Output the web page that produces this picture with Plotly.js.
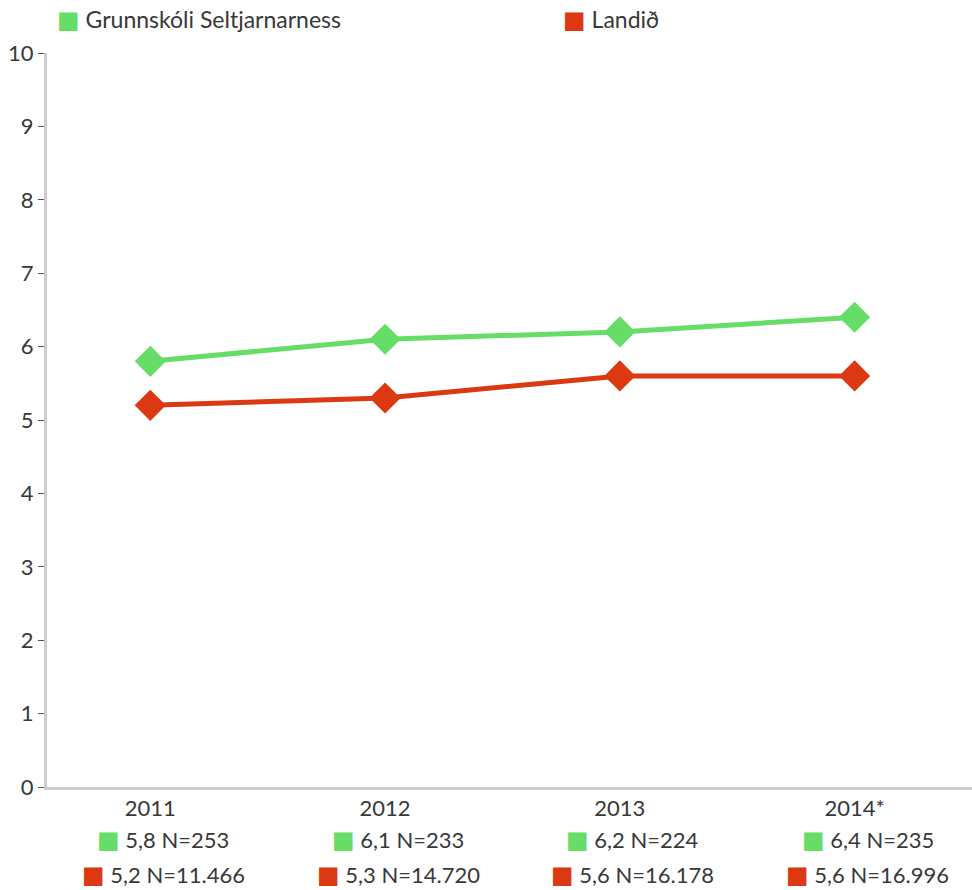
<!DOCTYPE html>
<html>
<head>
<meta charset="utf-8">
<script src="https://cdn.plot.ly/plotly-3.0.1.min.js"></script>
<style>html,body{margin:0;padding:0;background:#fff;}#chart{width:972px;height:890px;}</style>
</head>
<body>
<div id="chart"></div>
<script>
const years = ["2011", "2012", "2013", "2014*"];
const schoolName = "Grunnskóli Seltjarnarness";
const countryName = "Landið";
const schoolValues = [5.8, 6.1, 6.2, 6.4];
const countryValues = [5.2, 5.3, 5.6, 5.6];
const schoolLabels = ["5,8 N=253", "6,1 N=233", "6,2 N=224", "6,4 N=235"];
const countryLabels = ["5,2 N=11.466", "5,3 N=14.720", "5,6 N=16.178", "5,6 N=16.996"];
const yTicks = [0,1,2,3,4,5,6,7,8,9,10];

const green = "#66dd66";
const red = "#dc3912";
const textColor = "#383838";
const fontFamily = "Lato, 'Noto Sans', sans-serif";

function sq(color){
  return "<span style='color:" + color + ";font-size:24px;font-family:DejaVu Sans'>■</span> ";
}

const traces = [
  {x: [0,1,2,3], y: schoolValues, name: schoolName, type: "scatter", mode: "lines+markers",
   line: {color: green, width: 5}, marker: {symbol: "diamond", size: 24, color: green}, hoverinfo: "skip"},
  {x: [0,1,2,3], y: countryValues, name: countryName, type: "scatter", mode: "lines+markers",
   line: {color: red, width: 5}, marker: {symbol: "diamond", size: 24, color: red}, hoverinfo: "skip"}
];

const annotations = [];
years.forEach((yr, i) => {
  annotations.push({x: i, xref: "x", y: 0, yref: "paper", yanchor: "middle", xanchor: "center",
    yshift: -53, xshift: 13, showarrow: false, borderpad: 0, text: sq(green) + schoolLabels[i],
    font: {family: fontFamily, size: 22, color: textColor}});
  annotations.push({x: i, xref: "x", y: 0, yref: "paper", yanchor: "middle", xanchor: "center",
    yshift: -88, xshift: 13, showarrow: false, borderpad: 0, text: sq(red) + countryLabels[i],
    font: {family: fontFamily, size: 22, color: textColor}});
});
annotations.push({xref: "paper", x: 0.0086, yref: "paper", y: 1, yanchor: "middle", xanchor: "left",
  yshift: 34, showarrow: false, text: sq(green) + schoolName,
  font: {family: fontFamily, size: 23, color: textColor}});
annotations.push({xref: "paper", x: 0.556, yref: "paper", y: 1, yanchor: "middle", xanchor: "left",
  yshift: 34, showarrow: false, text: sq(red) + countryName,
  font: {family: fontFamily, size: 23, color: textColor}});

const layout = {
  width: 972, height: 890,
  margin: {l: 47, r: 0, t: 53, b: 103},
  paper_bgcolor: "#fff", plot_bgcolor: "#fff",
  showlegend: false,
  font: {family: fontFamily, color: textColor, size: 21},
  xaxis: {range: [-0.44, 3.5], tickvals: [0,1,2,3], ticktext: years, showgrid: false, zeroline: false,
    showline: true, linecolor: "#cccccc", linewidth: 3, ticks: "", tickfont: {size: 22, color: textColor},
    ticklabelstandoff: 0},
  yaxis: {range: [0, 10], tickvals: yTicks, ticktext: yTicks.map(String), showgrid: false, zeroline: false,
    showline: true, linecolor: "#cccccc", linewidth: 3, ticks: "outside", ticklen: 6, tickwidth: 1,
    tickcolor: "#555555", tickfont: {size: 22, color: textColor}},
  annotations: annotations
};

Plotly.newPlot("chart", traces, layout, {displayModeBar: false, staticPlot: true});
</script>
</body>
</html>
